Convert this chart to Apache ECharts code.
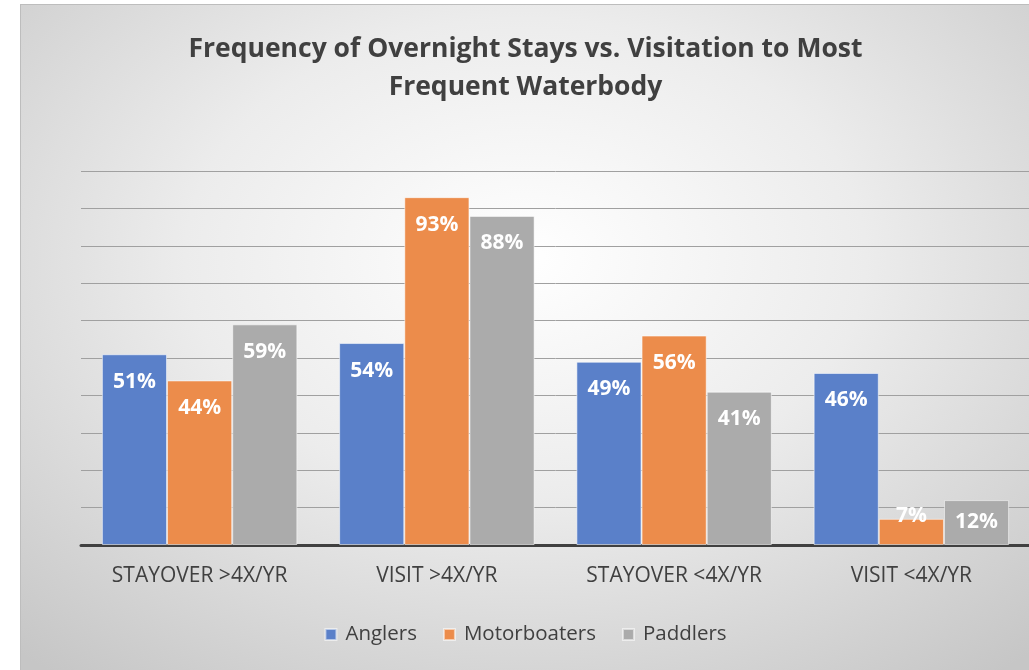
<!DOCTYPE html>
<html>
<head>
<meta charset="utf-8">
<script src="https://cdn.jsdelivr.net/npm/echarts@6/dist/echarts.min.js"></script>
<style>
  html, body { margin: 0; padding: 0; background: #fff; overflow: hidden; }
  #chart {
    position: absolute; left: 20px; top: 4px; width: 1010px; height: 666px;
    border-top: 1px solid #bdbdbd; border-left: 1px solid #bdbdbd;
    box-sizing: border-box;
    background: radial-gradient(ellipse 75% 80% at 50% 38%, #ffffff 0%, #ececec 45%, #c6c6c6 100%);
  }
</style>
</head>
<body>
<div id="chart"></div>
<script>
// categories and series values (percent)
var categories = ['STAYOVER >4X/YR', 'VISIT >4X/YR', 'STAYOVER <4X/YR', 'VISIT <4X/YR'];
var seriesNames = ['Anglers', 'Motorboaters', 'Paddlers'];
var anglers = [51, 54, 49, 46];
var motorboaters = [44, 93, 56, 7];
var paddlers = [59, 88, 41, 12];
var colors = ['#5a80c9', '#ec8c4b', '#ababab'];

var chart = echarts.init(document.getElementById('chart'), null, { renderer: 'canvas' });

function makeSeries(name, values, color) {
  return {
    name: name,
    type: 'bar',
    barGap: '0%',
    barCategoryGap: '17.6%',
    itemStyle: { color: color, borderColor: 'rgba(255,255,255,0.55)', borderWidth: 1 },
    label: {
      show: true,
      position: 'insideTop',
      distance: 17,
      formatter: '{c}%',
      color: '#ffffff',
      fontWeight: 'bold',
      fontSize: 21,
      fontFamily: 'Open Sans'
    },
    // short bars: Excel squeezes the label up near the bar end
    data: values.map(function (v) {
      if (v < 10) return { value: v, label: { position: 'insideTop', distance: -13 } };
      if (v < 15) return { value: v, label: { position: 'insideTop', distance: 11 } };
      return v;
    })
  };
}

var option = {
  animation: false,
  color: colors,
  title: {
    text: 'Frequency of Overnight Stays vs. Visitation to Most\nFrequent Waterbody',
    left: 'center',
    top: 20,
    textStyle: {
      fontFamily: 'Open Sans',
      fontWeight: 'bold',
      fontSize: 26.5,
      lineHeight: 38,
      color: '#404040'
    }
  },
  legend: {
    bottom: 20,
    left: 'center',
    itemWidth: 11,
    itemHeight: 11,
    itemGap: 26,
    icon: 'rect',
    textStyle: { fontFamily: 'Open Sans', fontSize: 20.5, color: '#404040', padding: [0, 0, 0, 4] },
    data: seriesNames
  },
  grid: { left: 60, right: -1, top: 166, bottom: 125, containLabel: false },
  xAxis: {
    type: 'category',
    data: categories,
    axisTick: { show: false },
    axisLine: { lineStyle: { color: '#404040', width: 3 } },
    axisLabel: { margin: 21, fontFamily: 'Open Sans', fontSize: 21, color: '#404040' }
  },
  yAxis: {
    type: 'value',
    min: 0,
    max: 100,
    interval: 10,
    axisLabel: { show: false },
    axisLine: { show: false },
    axisTick: { show: false },
    splitLine: { lineStyle: { color: '#a0a0a0', width: 1 } }
  },
  series: [
    makeSeries(seriesNames[0], anglers, colors[0]),
    makeSeries(seriesNames[1], motorboaters, colors[1]),
    makeSeries(seriesNames[2], paddlers, colors[2])
  ]
};

chart.setOption(option);
</script>
</body>
</html>
